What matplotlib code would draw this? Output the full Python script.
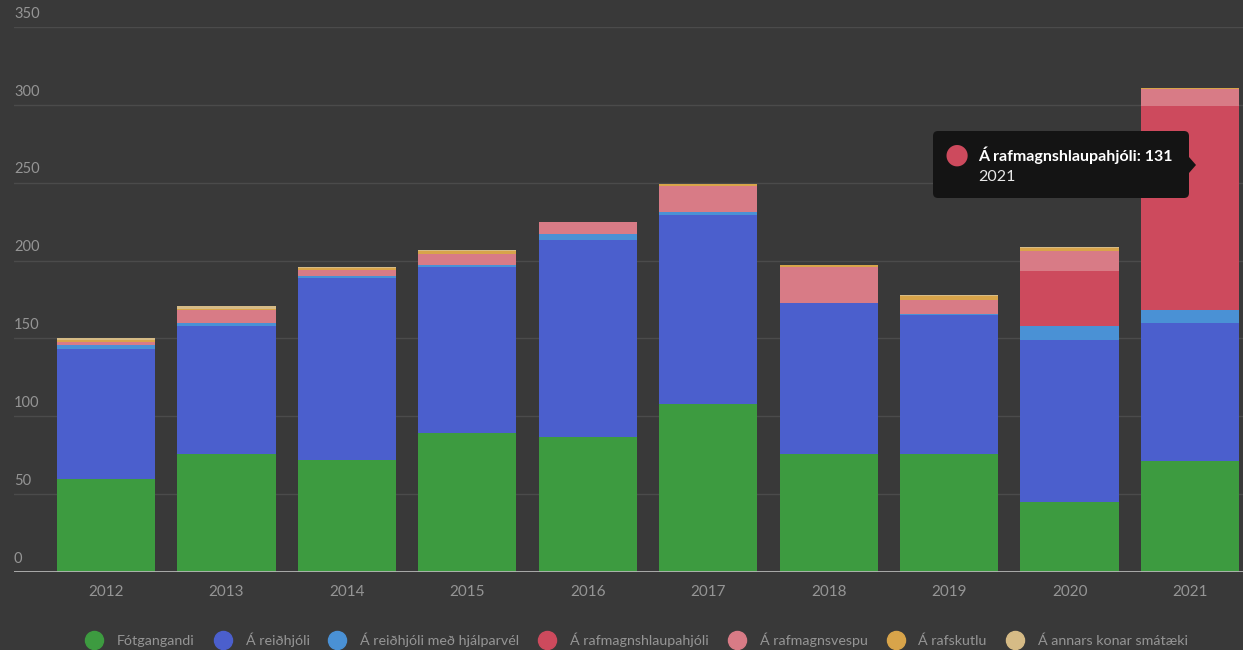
import matplotlib
matplotlib.use("Agg")
import matplotlib.pyplot as plt
from matplotlib.patches import FancyBboxPatch, Polygon
import numpy as np

years = ["2012", "2013", "2014", "2015", "2016", "2017", "2018", "2019", "2020", "2021"]
series = ["Fótgangandi", "Á reiðhjóli", "Á reiðhjóli með hjálparvél",
          "Á rafmagnshlaupahjóli", "Á rafmagnsvespu", "Á rafskutlu",
          "Á annars konar smátæki"]
fotgangandi = [60, 76, 72, 89, 87, 108, 76, 76, 45, 71]
reidhjol = [83, 82, 117, 107, 126, 121, 97, 89, 104, 89]
hjalparvel = [3, 2, 1, 1, 4, 2, 0, 1, 9, 8]
hlaupahjol = [0, 0, 0, 0, 0, 0, 0, 0, 35, 131]
vespa = [2, 8, 4, 7, 8, 17, 23, 9, 13, 11]
rafskutla = [1, 1, 1, 2, 0, 1, 1, 2, 2, 1]
annad = [1, 2, 1, 1, 0, 0, 0, 1, 1, 0]
colors = ["#3d9b40", "#4b5fcd", "#4a91d5", "#cd4a5d", "#d87b86", "#d8a44a", "#d6bb86"]

bg = "#393939"
txt = "#959595"

fig = plt.figure(figsize=(12.43, 6.5), dpi=100, facecolor=bg)
ax = fig.add_axes([14 / 1243, 78 / 650, 1 - 14 / 1243, (572 - 27) / 650])
ax.set_facecolor(bg)

x = np.arange(len(years))
data = [fotgangandi, reidhjol, hjalparvel, hlaupahjol, vespa, rafskutla, annad]
bottom = np.zeros(len(years))
for vals, c, name in zip(data, colors, series):
    ax.bar(x, vals, width=0.815, bottom=bottom, color=c, label=name, zorder=3)
    bottom += np.array(vals)

ax.set_xlim(-0.764, 9.44)
ax.set_ylim(0, 350)
for s in ax.spines.values():
    s.set_visible(False)
ax.axhline(0, color="#b5b5b5", lw=2, zorder=4)
for v in range(50, 351, 50):
    ax.axhline(v, color="#4b4b4b", lw=1, zorder=1)
for v in range(0, 351, 50):
    ax.text(0.0, v + 4, str(v), transform=ax.get_yaxis_transform(),
            color=txt, fontsize=10.5, ha="left", va="bottom", family="Lato")
ax.set_yticks([])
ax.set_xticks(x)
ax.set_xticklabels(years, color=txt, fontsize=11, family="Lato")
ax.tick_params(axis="x", length=0, pad=9)

# legend
handles = [plt.Line2D([], [], marker="o", ls="", markersize=13, color=c) for c in colors]
leg = fig.legend(handles, series, loc="center", bbox_to_anchor=(0.511, 10 / 650),
                 ncol=7, frameon=False, handletextpad=0.8, handlelength=1.6,
                 columnspacing=1.15, labelcolor=txt, prop={"family": "Lato", "size": 10.3})

# tooltip
box = FancyBboxPatch((933, 650 - 198), 256, 67, boxstyle="round,pad=0,rounding_size=5",
                     transform=None, facecolor="#141414", edgecolor="none", zorder=10)
fig.patches.append(box)
arrow = Polygon([[1189, 650 - 157], [1196, 650 - 165], [1189, 650 - 173]], closed=True,
                transform=None, facecolor="#141414", edgecolor="none", zorder=10)
fig.patches.append(arrow)
fig.text(957 / 1243, 1 - 155 / 650, "●", color=colors[3], fontsize=20,
         ha="center", va="center", zorder=11)
fig.text(978 / 1243, 1 - 155 / 650, "Á rafmagnshlaupahjóli: 131", color="white",
         fontsize=11.5, fontweight="bold", ha="left", va="center", family="Lato", zorder=11)
fig.text(978 / 1243, 1 - 177 / 650, "2021", color="#e8e8e8",
         fontsize=11.5, ha="left", va="center", family="Lato", zorder=11)

fig.savefig("out.png", dpi=100, facecolor=bg)
